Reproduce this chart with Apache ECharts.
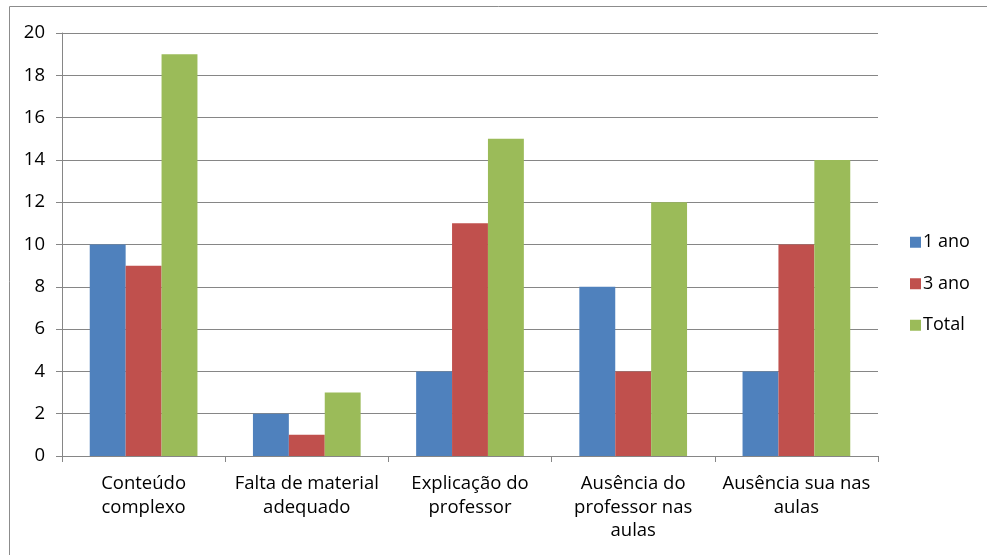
<!DOCTYPE html>
<html>
<head>
<meta charset="utf-8">
<script src="https://cdn.jsdelivr.net/npm/echarts@6/dist/echarts.min.js"></script>
<style>
  html, body { margin: 0; padding: 0; background: #fff; }
  #chart { width: 987px; height: 555px; }
</style>
</head>
<body>
<div id="chart"></div>
<script>
// Reasons for difficulty, counted per class group
const categories = [
  'Conteúdo\ncomplexo',
  'Falta de material\nadequado',
  'Explicação do\nprofessor',
  'Ausência do\nprofessor nas\naulas',
  'Ausência sua nas\naulas'
];
const ano1 = [10, 2, 4, 8, 4];
const ano3 = [9, 1, 11, 4, 10];
const total = [19, 3, 15, 12, 14];
const seriesNames = ['1 ano', '3 ano', 'Total'];
const colors = ['#4F81BD', '#C0504D', '#9BBB59'];

const font = '"Open Sans", Lato, sans-serif';
const chart = echarts.init(document.getElementById('chart'));

chart.setOption({
  animation: false,
  color: colors,
  textStyle: { fontFamily: font },
  graphic: [{
    type: 'rect',
    shape: { x: 9.5, y: 6.5, width: 1000, height: 600 },
    style: { fill: 'none', stroke: '#8c8c8c', lineWidth: 1 },
    silent: true
  }],
  grid: { left: 62, right: 109, top: 33, bottom: 99 },
  legend: {
    orient: 'vertical',
    left: 905,
    top: 227,
    itemWidth: 11,
    itemHeight: 11,
    itemGap: 21,
    icon: 'rect',
    textStyle: { fontSize: 18, color: '#000', fontFamily: font, lineHeight: 20.5, padding: [0, 0, 0, -3] },
    data: seriesNames
  },
  xAxis: {
    type: 'category',
    data: categories,
    axisLine: { lineStyle: { color: '#868686' } },
    axisTick: { show: true, length: 6, lineStyle: { color: '#868686' } },
    axisLabel: {
      interval: 0,
      margin: 16,
      fontSize: 18.5,
      lineHeight: 23.5,
      color: '#000',
      fontFamily: font
    }
  },
  yAxis: {
    type: 'value',
    min: 0,
    max: 20,
    interval: 2,
    axisLine: { show: true, lineStyle: { color: '#868686' } },
    axisTick: { show: true, length: 6, lineStyle: { color: '#868686' } },
    splitLine: { lineStyle: { color: '#868686', width: 1 } },
    axisLabel: { fontSize: 18.5, color: '#000', margin: 17, fontFamily: font }
  },
  series: [
    { name: seriesNames[0], type: 'bar', data: ano1, barGap: '0%', barCategoryGap: '34%' },
    { name: seriesNames[1], type: 'bar', data: ano3, barGap: '0%', barCategoryGap: '34%' },
    { name: seriesNames[2], type: 'bar', data: total, barGap: '0%', barCategoryGap: '34%' }
  ]
});
</script>
</body>
</html>
